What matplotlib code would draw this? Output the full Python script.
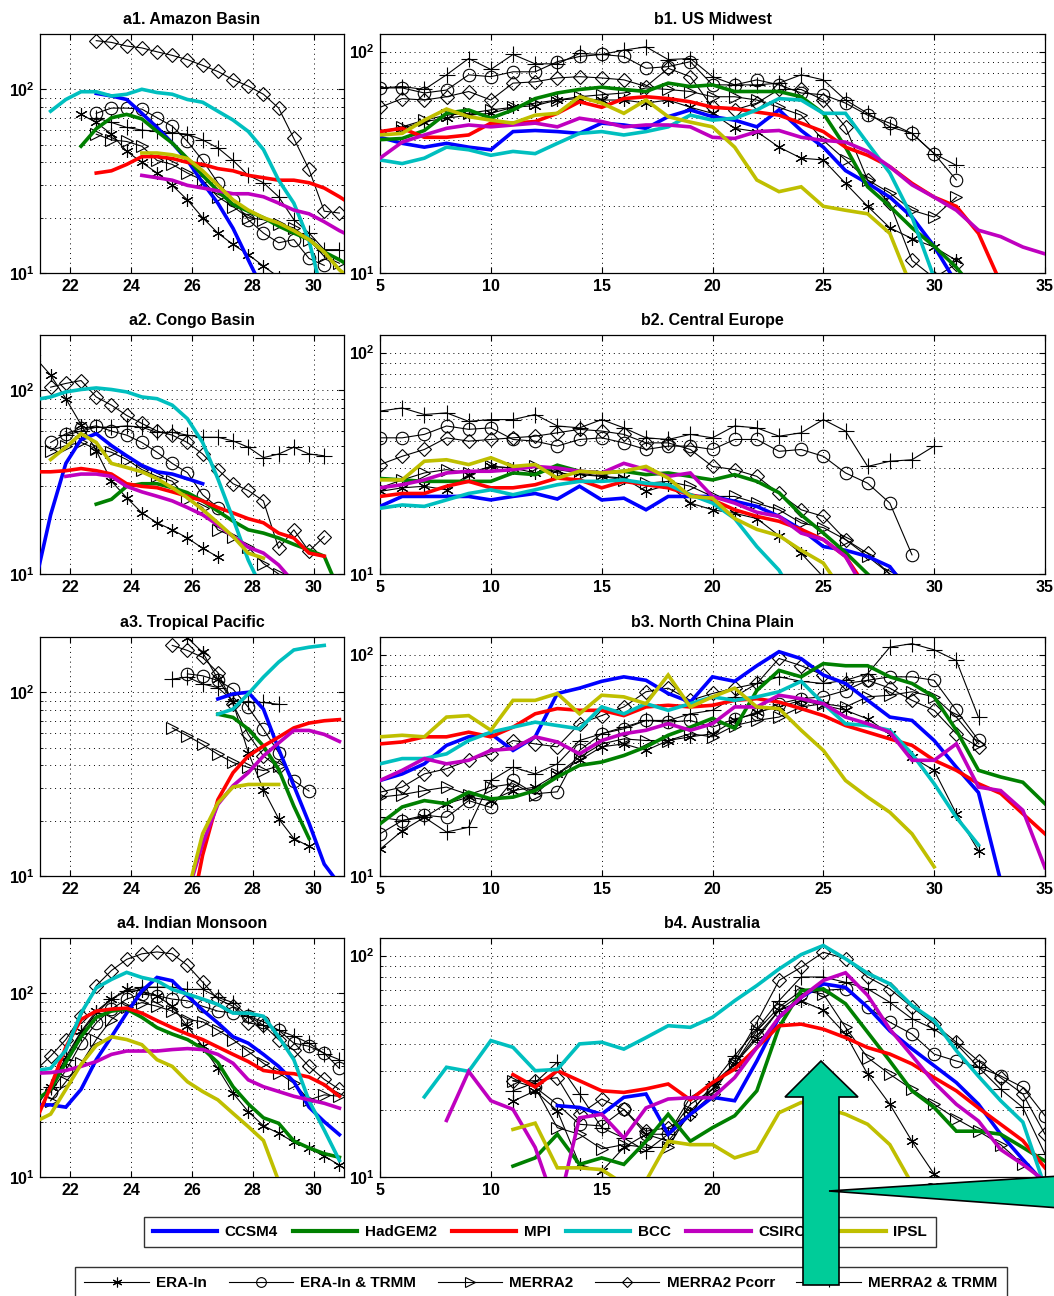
import numpy as np
import matplotlib
matplotlib.use("Agg")
from matplotlib import pyplot as plt
from matplotlib.lines import Line2D
from matplotlib.patches import Polygon
from matplotlib.ticker import FixedLocator, FuncFormatter, NullFormatter, LogLocator

plt.rcParams['font.family'] = ['Liberation Sans', 'DejaVu Sans']
plt.rcParams['font.weight'] = 'bold'
plt.rcParams['mathtext.fontset'] = 'custom'
plt.rcParams['mathtext.bf'] = 'Liberation Sans:bold'
plt.rcParams['mathtext.rm'] = 'Liberation Sans:bold'

N = None

# x grids (bin centres)
LX = [20.85, 21.35, 21.85, 22.35, 22.85, 23.35, 23.85, 24.35, 24.85, 25.35, 25.85,
      26.35, 26.85, 27.35, 27.85, 28.35, 28.85, 29.35, 29.85, 30.35, 30.85, 31.35]
RX = [5, 6, 7, 8, 9, 10, 11, 12, 13, 14, 15, 16, 17, 18, 19, 20,
      21, 22, 23, 24, 25, 26, 27, 28, 29, 30, 31, 32, 33, 34, 35]

MODELS = ["CCSM4", "HadGEM2", "MPI", "BCC", "CSIRO", "IPSL"]
MODEL_COLORS = ['#0000ff', '#008000', '#ff0000', '#00bfbf', '#bf00bf', '#bfbf00']
OBS = ["ERA-In", "ERA-In & TRMM", "MERRA2", "MERRA2 Pcorr", "MERRA2 & TRMM"]
OBS_MARKERS = [(6, 2, 0), 'o', '>', 'D', '+']
OBS_SIZES = [9, 9, 9, 7, 11]

# ---- a1. Amazon Basin
A1_CCSM4 = [N]*4 + [95, 92, 88, 74, 62, 51, 41, 31, 24, 17.5, 11.8, 8]
A1_HADGEM2 = [N]*3 + [49, 61, 70, 73, 69, 59, 51, 42, 34, 28, 23.6, 21.7, 20, 18, 16.5, 15.2, 13, 11.8, 10.5]
A1_MPI = [N]*4 + [35, 36, 39, 43, 43, 42, 40, 39, 37, 36, 34, 33, 32, 32, 31, 29, 26, 23]
A1_BCC = [N] + [76, 88, 97, 97, 92, 94, 100, 96, 94, 88, 85, 76, 68, 59, 47, 32, 24, 15, 7]
A1_CSIRO = [N]*7 + [34, 33, 32, 30, 29, 28, 27, 27, 26, 24, 22, 21, 19, 17, 15.5]
A1_IPSL = [N]*7 + [45, 45, 44, 42, 36, 30, 25, 22, 20, 18.7, 17, 15.2, 13, 10.4, 9]
A1_ERA = [N]*3 + [73, 66, 57, 46, 40, 35, 30, 25, 20, 16.5, 14.3, 12.6, 10.9, 9.5]
A1_ERA_TRMM = [N]*4 + [74, 79, 79, 78, 70, 63, 52, 41, 31, 25, 19.5, 16.5, 14.6, 15.2, 12, 11]
A1_MERRA2 = [N]*4 + [57, 53, 52, 49, 41, 39, 35, 32, 26, 23, 20, 19.5, 18.5, 17.6, 15.2, 12.3, 11.3]
A1_PCORR = [N]*4 + [184, 180, 172, 168, 160, 153, 145, 135, 125, 113, 104, 94, 79, 54, 36.6, 21.7, 21.2]
A1_M2_TRMM = [N]*4 + [70, 66, 62, 60, 59, 58, 57, 53, 48, 41, 34, 31, 26, 19.5, 16.5, 13.4, 13.4]

# ---- a2. Congo Basin
A2_CCSM4 = [9, 21, 40, 54, 58, 50, 44, 39, 36, 35, 33, 31]
A2_HADGEM2 = [N]*4 + [24, 25.5, 30, 31, 31, 29.5, 27.7, 25, 22, 19.4, 17.4, 16.7, 15.7, 14.5, 13.5, 12.5, 8]
A2_MPI = [36, 36, 36.5, 37.5, 36.5, 35, 31, 30, 29.5, 28, 26.5, 25, 23, 21.5, 20, 19, 16.7, 15.7, 13, 12.5]
A2_BCC = [89, 92, 98, 101, 103, 101, 98, 92, 90, 83, 70, 52, 33, 20, 11.9, 8]
A2_CSIRO = [N]*2 + [34, 35, 35, 34, 30, 28, 26.5, 25, 23, 21, 18.5, 16, 14, 13, 11.2, 9]
A2_IPSL = [N] + [42, 49, 58, 52, 40, 38, 36, 33, 29.5, 26, 22.4, 19, 16, 13, 12.2]
A2_ERA = [150, 121, 90, 65, 47, 32, 26, 21.5, 19, 17.4, 15.7, 13.8, 12.4]
A2_ERA_TRMM = [N] + [52, 58, 62, 64, 60, 57, 52, 46, 40, 35.6, 27, 23]
A2_MERRA2 = [N] + [47, 50, 52, 48, 46, 42, 37, 34, 32, 25.5, 23, 17.4, 16, 14, 11.4, 10]
A2_PCORR = [N] + [104, 109, 113, 92, 83, 73, 66, 60, 57, 52, 45, 37, 31, 28.5, 25, 13.8, 17.4, 13.3, 16]
A2_M2_TRMM = [N]*2 + [57, 60, 63, 63, 64, 63, 59, 59, 57, 55.5, 55.5, 53, 49, 43, 45, 49, 45, 44]

# ---- a3. Tropical Pacific
A3_CCSM4 = [N]*12 + [92, 98, 100, 81, 49, 31, 19.4, 11.6, 9]
A3_HADGEM2 = [N]*12 + [76, 73, 63, 51, 38, 24, 16]
A3_MPI = [N]*10 + [5, 13, 26, 36.5, 45, 51, 57, 64, 68, 70, 71]
A3_BCC = [N]*12 + [76, 81, 98, 121, 146, 170, 176, 180]
A3_CSIRO = [N]*10 + [8, 15, 24.5, 31, 36.5, 45, 53, 62, 62, 59, 54]
A3_IPSL = [N]*10 + [8, 17, 25, 30.5, 31.5, 31.5, 31.5]
A3_ERA = [N]*10 + [198, 165, 118, 88, 47, 29.5, 20.5, 16, 14.5]
A3_ERA_TRMM = [N]*10 + [126, 123, 116, 104, 83, 63, 47, 33, 29]
A3_MERRA2 = [N]*9 + [64, 58, 52, 46, 41.5, 39, 37.5, 39.7]
A3_PCORR = [N]*9 + [180, 169, 155, 128, 86, 59, 45, 39]
A3_M2_TRMM = [N]*9 + [118, 121, 111, 106, 90, 88, 88, 86]

# ---- a4. Indian Monsoon
A4_CCSM4 = [24.7, 24.7, 24, 30, 43.5, 58, 78, 103, 122, 117, 97, 81, 69, 58, 53.5, 46.5, 40, 33, 24, 20, 17]
A4_HADGEM2 = [26, 30, 42, 58, 74, 80, 82, 74, 65, 60, 56, 50, 42, 31, 25, 21, 19.6, 15.7, 14.4, 13.4, 12.8]
A4_MPI = [20, 31, 51, 72, 80, 82, 83, 78, 71, 65, 60, 56, 51, 46.5, 42.5, 38, 37, 36.5, 35, 31.8, 27.5]
A4_BCC = [38, 39, 49, 78, 107, 119, 130, 122, 117, 105, 99, 93, 87, 78, 78, 75, 58, 43.5, 26, 18, 12.3]
A4_CSIRO = [36.7, 37, 38, 40, 42.5, 46.5, 48.5, 48.5, 48.5, 49.4, 50, 49.4, 46.5, 41.6, 33.8, 31, 29.2, 27.5, 26.3, 25.2, 23.7]
A4_IPSL = [20, 22, 30, 41, 52, 58, 56, 52.5, 43.5, 40, 33, 29.2, 26.3, 22.2, 18.8, 15.8, 9.5]
A4_ERA = [24, 31, 45, 62, 80, 93, 105, 103, 97, 85, 66, 51.5, 39, 28.6, 22.7, 19, 17.3, 15.5, 14.3, 13, 11.6]
A4_ERA_TRMM = [N] + [29, 38, 53.5, 69, 82, 93, 99, 97, 93, 91, 85, 80, 78, 75, 70, 63, 53.5, 51.5, 47.2, 39]
A4_MERRA2 = [N] + [26, 33, 41.5, 56, 72, 84, 89, 85, 80, 72, 70, 63, 56, 48.3, 41.6, 36.8, 32.4, 26.3, 28, 27.5]
A4_PCORR = [38, 45.5, 56, 75, 110, 133, 153, 164, 168, 164, 142, 115, 93, 85, 69, 67, 56, 49, 40, 34, 30]
A4_M2_TRMM = [N] + [31, 43.5, 61, 78, 93, 103, 108, 108, 108, 105, 105, 95, 89, 75, 67, 63, 58.5, 53.5, 47, 43.5]

# ---- b1. US Midwest
B1_CCSM4 = [41, 38.5, 37, 38.5, 37, 36, 43.5, 44, 43.5, 42.7, 47.5, 46.6, 45, 50.8, 54.5, 50.8, 49, 45.7,
            54.5, 44, 37, 29, 25.4, 22, 17.9, 13.2, 9]
B1_HADGEM2 = [40, 40.5, 44, 52.6, 54.5, 50, 54.5, 61.3, 65, 67.4, 69, 67.4, 66, 72, 69.5, 70.7, 66, 66,
              66, 62.5, 52.6, 37, 24.5, 20, 16, 13.2, 10.6, 8]
B1_MPI = [43.5, 45, 41, 41, 42, 47.5, 47.5, 48.3, 52.6, 59.3, 56, 61.3, 62.5, 61.3, 59.3, 56, 55.2, 53.3,
          51.6, 47.5, 43.5, 37, 34, 30.2, 25.4, 22, 20, 15.1, 9]
B1_BCC = [32.4, 31.2, 33, 37, 36, 34, 35.4, 34.6, 38.5, 42.7, 43.5, 42, 43.5, 45.7, 51.6, 49, 50, 54.5,
          61.3, 60.4, 52.6, 52.6, 38.5, 28.3, 17.9, 9.5]
B1_CSIRO = [33, 39, 42, 45, 46.6, 45.7, 46.6, 47.5, 45.7, 50, 48.3, 45.7, 46.6, 46.6, 45.7, 41, 40.5, 43.5,
            44, 41, 39.7, 39, 35.4, 30.2, 25, 22, 19.2, 15.6, 14.6, 13.1, 12.2]
B1_IPSL = [42, 42.7, 49, 55, 50.8, 49, 47.5, 51.6, 52.6, 62.5, 58.5, 52.6, 60.4, 50.8, 48, 45.7, 37, 26.3,
           23.3, 24.5, 20, 19.2, 18.5, 15.1, 8.5]
B1_ERA = [43.5, 45, 48.3, 50, 51.6, 52.6, 56, 57, 60.4, 61.3, 60.4, 60.4, 58.5, 60.4, 56, 52.6, 45, 43.5,
          37, 33, 32.4, 25.4, 20, 16, 14.3, 13.1, 11.4]
B1_ERA_TRMM = [68.5, 68.5, 65, 67, 78.5, 77, 81, 81, 90, 95, 97, 95, 84, 85.5, 90, 70.7, 70.7, 74.5,
               70.7, 65, 63.8, 58.5, 51.6, 47.5, 42.7, 34.6, 26.3]
B1_MERRA2 = [43.5, 45.7, 49, 51.6, 52.6, 54.5, 56, 58.5, 60.4, 62.5, 63.8, 65, 68.5, 67.4, 66, 62.5, 62.5,
             60.4, 56, 51.6, 39.7, 32.4, 26.3, 23, 19.2, 17.9, 22]
B1_PCORR = [56, 61.3, 60.4, 62.5, 66, 60.4, 72, 73, 76, 77, 76, 74.5, 69.5, 84, 77, 56, 54.5, 58.5,
            67.4, 67.4, 60.4, 45.7, 26.3, 20.6, 11.4, 9.5, 11]
B1_M2_TRMM = [68.5, 69.5, 67.4, 78.5, 93, 83, 97, 88, 88, 98, 97, 101.5, 105, 92, 93, 77, 70.7, 70.7,
              72, 78.5, 74.5, 60.4, 52.6, 45.7, 42.7, 34.6, 30.6]

# ---- b2. Central Europe
B2_CCSM4 = [20.2, 22.4, 22.4, 22.4, 22.4, 21.6, 22.4, 23.1, 21.8, 24.9, 21.6, 22, 19.5, 22.4, 22.4, 22.4,
            21.3, 20.2, 18.2, 15.9, 13.3, 12.8, 12, 10.8, 8]
B2_HADGEM2 = [27, 26.6, 26.2, 26.2, 26.2, 26.2, 28.6, 28.1, 31, 29.1, 28.6, 29.1, 28.1, 28.6, 27.6, 26.6,
              28.1, 26.2, 23.3, 18.5, 15.3, 12.5, 10, 8]
B2_MPI = [22.4, 23.1, 23.1, 24.9, 26.2, 24.5, 24.5, 25.3, 27.1, 26.6, 24.5, 26.2, 25.3, 24.5, 22.8, 21.6,
          19.5, 18.2, 17.3, 15.9, 14.3, 12, 8.5, 7]
B2_BCC = [19.8, 20.5, 20.2, 21.6, 23.1, 24, 22.8, 24, 25.3, 26.2, 26.2, 26.6, 25.7, 25.3, 22.8, 20.9,
          17.8, 13.3, 10.4, 7]
B2_CSIRO = [24.5, 25.3, 26.6, 28.6, 29.1, 29.1, 29.6, 30.6, 30.1, 29.1, 28.6, 31.6, 29.6, 27.6, 28.6, 22.4,
            20.9, 19, 18.2, 15.3, 14.3, 12, 8, 6]
B2_IPSL = [26.6, 26.6, 32.3, 32.8, 31.2, 33.5, 30.6, 31.2, 27.1, 29.1, 28.6, 29.1, 30.6, 27.1, 22.4, 22,
           17.8, 15.9, 14.9, 12.8, 11.2, 8, 6]
B2_ERA = [23.6, 24.5, 24.9, 24, 28.1, 30.6, 30.1, 28.6, 29.6, 28.6, 27.6, 27.1, 23.6, 25.3, 20.9, 19.5,
          18.8, 17.8, 14.9, 12.4, 9.7]
B2_ERA_TRMM = [41.2, 41.2, 42.7, 46.6, 45, 45.7, 40.5, 39.8, 37.8, 40.5, 41.2, 39.1, 36.5, 37.8, 37.8, 36.5,
               40.5, 40.5, 35.8, 36.5, 34, 28.6, 25.7, 20.9, 12.2]
B2_MERRA2 = [24.5, 26.6, 28.6, 29.6, 28.6, 30.6, 30.1, 30.6, 28.6, 28.1, 27.6, 26.6, 25.7, 26.2, 24.9, 22.4,
             22.4, 20.9, 19.5, 17, 16.2, 14.3, 12, 10]
B2_PCORR = [31.2, 34, 36.5, 41.2, 39.8, 40.5, 41.2, 41.9, 43.4, 45, 44.2, 42.7, 39.1, 39.1, 36.5, 30.6,
            29.6, 27.6, 23.1, 19.5, 18.2, 14.3, 12.4, 10]
B2_M2_TRMM = [54.4, 56.2, 52.5, 53.4, 48.9, 49.8, 49.8, 52.5, 46.6, 45.7, 49.8, 45.7, 41.2, 40.5, 42.7, 41.2,
              46.6, 45.7, 41.9, 43.4, 49.8, 44.2, 30.6, 32.3, 32.8, 37.8]

# ---- b3. North China Plain
B3_CCSM4 = [27, 28.9, 32.1, 38.9, 42.5, 43.9, 36.9, 42.5, 66.7, 70.5, 75.7, 79.3, 76.5, 66.7, 61, 79.3,
            75.7, 89, 103, 95.8, 80.8, 74, 62.1, 52.2, 50.4, 40.9, 31, 23.8, 9.5]
B3_HADGEM2 = [17.2, 20.5, 21.9, 21.2, 23.9, 22.3, 22.7, 24.3, 28, 31.6, 32.7, 35, 38.3, 43.2, 47, 51.5,
              46.4, 68.8, 84.8, 79.3, 91, 89, 89, 79.3, 74, 64.4, 45.5, 30, 28, 26.5, 21.2]
B3_MPI = [39.5, 40.3, 42.5, 42.5, 44.6, 42.5, 47, 54, 57, 56, 56, 53, 58, 59, 58, 59, 62.1, 63.2, 61, 57,
          53, 47.8, 44.6, 41.6, 38.9, 33.3, 30, 26.1, 23.6, 19.1, 15.5]
B3_BCC = [32.1, 33.9, 33.9, 35.6, 40.9, 44.6, 47, 49.5, 47.8, 46.2, 58, 54, 60, 56, 60, 64.4, 62.1, 64.4,
          67.9, 75.7, 60, 48.7, 47.8, 45.5, 35.6, 26.1, 18.4, 13.8]
B3_CSIRO = [27, 30, 33.9, 32.1, 33.3, 36.9, 37.6, 42.5, 40.3, 35.6, 40.9, 43.9, 45.5, 48.7, 45.5, 48.7, 58,
            58, 65.5, 63.2, 60, 52.2, 48.7, 44.6, 33.3, 33.3, 39.5, 25.2, 24.3, 19.8, 10.9]
B3_IPSL = [42.5, 43.2, 42.5, 52.2, 53, 45.5, 62.1, 62.1, 66.7, 54, 65.5, 64.4, 60, 80.8, 58, 64.4, 70.5,
           58, 57, 45.5, 36.9, 27, 22.7, 19.4, 15.5, 11]
B3_ERA = [13.2, 16, 18.4, 21.2, 22.7, 21.9, 24.3, 25.2, 28.9, 33.3, 38.3, 39.5, 36.9, 40.9, 42.5, 43.9,
          50.4, 55, 58, 62.1, 59, 56, 51.2, 43.9, 34.4, 30, 19.1, 13]
B3_ERA_TRMM = [15.5, 17.8, 18.8, 18.4, 21.9, 20.4, 27, 23.5, 24, 36.9, 43.9, 46.2, 50.4, 49.5, 50.4, 47,
               51.2, 54, 60, 63.2, 64.4, 68.8, 76.5, 79.3, 79.3, 76.5, 56, 41]
B3_MERRA2 = [22.7, 23.3, 24.3, 25.2, 23.3, 25.2, 26.1, 23.3, 28.9, 34.4, 39.5, 41.6, 40.9, 40.9, 43.9, 42.5,
             47.8, 50.4, 52.2, 58, 60, 58, 64.4, 65.5, 67.9, 64.4, 52.2, 39.5]
B3_PCORR = [23.9, 25.2, 28.9, 30.5, 33.3, 35.6, 40.9, 39.5, 38.3, 48.7, 53, 58, 67.9, 70.5, 62.1, 66.7,
            70.5, 74, 96, 89, 80.8, 74, 76.5, 70.5, 62.1, 56, 43.9, 38.3]
B3_M2_TRMM = [18.4, 17.8, 18.4, 15.8, 16.6, 27, 31, 28.9, 32.1, 40.9, 43.9, 47, 50.4, 50.4, 54, 56, 64.4,
              74, 79.3, 75.7, 74, 76.5, 82, 108, 112, 105, 94, 52]

# ---- b4. Australia
B4_CCSM4 = [N]*8 + [21, 20.6, 19.2, 22.9, 23.7, 15.6, 19.2, 22.9, 22.1, 33.4, 52.6, 64.8, 74.5, 71.8,
                    58.4, 45.7, 37.9, 31.8, 26.7, 21.3, 15.6, 12, 9.3]
B4_HADGEM2 = [N]*6 + [11.2, 12.2, 15.6, 11.4, 12.2, 11.4, 14.5, 19.2, 14.5, 16.7, 18.9, 24.5, 47.4, 69.4,
                      70.7, 60.6, 45, 33.4, 24.5, 20.6, 16.1, 16.1, 15.6, 13.6, 11.8]
B4_MPI = [N]*6 + [29, 25.5, 30.2, 27.2, 24.5, 24.1, 25, 26.3, 22.3, 26.7, 30.7, 38.4, 48.2, 49, 46.5, 42.6,
                  38.4, 35.9, 32.4, 28.1, 24.5, 20.5, 17.3, 14.6, 11]
B4_BCC = [N]*2 + [23, 31.3, 30, 41.3, 38.5, 30.2, 30.6, 39.9, 40.6, 37.8, 42.6, 48.2, 47.4, 52.6, 62.5,
                  73.2, 86.9, 101, 111, 96.7, 83.1, 74.5, 59.5, 50.8, 37.2, 28.5, 22.1, 17.7, 9]
B4_CSIRO = [N]*3 + [18, 30, 22.1, 20.2, 13.6, 7, 18.5, 19.2, 15, 20.5, 22.5, 22.8, 22.8, 28.1, 38.4, 52.6,
                    64.8, 77.2, 83.6, 66.1, 46.5, 35.3, 26.7, 21.3, 17.9, 13.3, 11.4, 9.6]
B4_IPSL = [N]*6 + [16.4, 17.5, 11, 11, 10.8, 9.3, 9.6, 14.5, 14, 14, 12.2, 13.1, 19.5, 21.7, 20.6, 19.2,
                   17.3, 14, 9.3]
B4_ERA = [N]*6 + [22, 24.5, 19.9, 11.4, 10.6, 13.6, 15.6, 14.5, 19.2, 26.3, 32.4, 42, 56.6, 62.5, 56.6,
                  44.2, 29.1, 21.3, 14.5, 10.3, 8]
B4_ERA_TRMM = [N]*7 + [25.4, 21.3, 17.3, 17, 20.2, 15.6, 15.6, 21.3, 24.9, 32.4, 43.4, 56.6, 67.1, 69.6,
                       70.7, 58.4, 50, 44.2, 35.9, 33.4, 31.3, 28.6, 25.4, 18.9]
B4_MERRA2 = [N]*6 + [27.2, 25.4, 16.7, 15.6, 13.4, 14, 13.6, 13.6, 19.9, 24.9, 32.4, 45.7, 58.4, 69.4, 67.1,
                     47.4, 34.6, 29.1, 24.9, 21.3, 18.3, 16.1, 14, 11.4, 9.6]
B4_PCORR = [N]*6 + [27.2, 27.2, 28.1, 19.2, 22.5, 20.2, 16.1, 16.7, 19.2, 23.7, 33.4, 49.9, 77.2, 88.5,
                    103.5, 96.7, 80, 70.7, 58.4, 49, 40.6, 33.4, 28.1, 23.7, 15.6]
B4_M2_TRMM = [N]*6 + [24.5, 26.7, 33, 23.7, 16.7, 15, 13.1, 15.6, 22.9, 26.3, 35.3, 46.5, 62.5, 80, 80,
                      75.7, 70.7, 61.5, 51.8, 46.5, 39.9, 31.3, 24.9, 20.6, 12.7]

panels = [
    ("a1. Amazon Basin", 0, 0, [A1_CCSM4, A1_HADGEM2, A1_MPI, A1_BCC, A1_CSIRO, A1_IPSL],
     [A1_ERA, A1_ERA_TRMM, A1_MERRA2, A1_PCORR, A1_M2_TRMM]),
    ("a2. Congo Basin", 1, 0, [A2_CCSM4, A2_HADGEM2, A2_MPI, A2_BCC, A2_CSIRO, A2_IPSL],
     [A2_ERA, A2_ERA_TRMM, A2_MERRA2, A2_PCORR, A2_M2_TRMM]),
    ("a3. Tropical Pacific", 2, 0, [A3_CCSM4, A3_HADGEM2, A3_MPI, A3_BCC, A3_CSIRO, A3_IPSL],
     [A3_ERA, A3_ERA_TRMM, A3_MERRA2, A3_PCORR, A3_M2_TRMM]),
    ("a4. Indian Monsoon", 3, 0, [A4_CCSM4, A4_HADGEM2, A4_MPI, A4_BCC, A4_CSIRO, A4_IPSL],
     [A4_ERA, A4_ERA_TRMM, A4_MERRA2, A4_PCORR, A4_M2_TRMM]),
    ("b1. US Midwest", 0, 1, [B1_CCSM4, B1_HADGEM2, B1_MPI, B1_BCC, B1_CSIRO, B1_IPSL],
     [B1_ERA, B1_ERA_TRMM, B1_MERRA2, B1_PCORR, B1_M2_TRMM]),
    ("b2. Central Europe", 1, 1, [B2_CCSM4, B2_HADGEM2, B2_MPI, B2_BCC, B2_CSIRO, B2_IPSL],
     [B2_ERA, B2_ERA_TRMM, B2_MERRA2, B2_PCORR, B2_M2_TRMM]),
    ("b3. North China Plain", 2, 1, [B3_CCSM4, B3_HADGEM2, B3_MPI, B3_BCC, B3_CSIRO, B3_IPSL],
     [B3_ERA, B3_ERA_TRMM, B3_MERRA2, B3_PCORR, B3_M2_TRMM]),
    ("b4. Australia", 3, 1, [B4_CCSM4, B4_HADGEM2, B4_MPI, B4_BCC, B4_CSIRO, B4_IPSL],
     [B4_ERA, B4_ERA_TRMM, B4_MERRA2, B4_PCORR, B4_M2_TRMM]),
]

W, H = 1054, 1296
fig = plt.figure(figsize=(W / 100, H / 100), dpi=100)

row_tops = [34, 335, 637, 938]
ax_h = 239


def to_arr(vals):
    return np.array([np.nan if v is None else v for v in vals], dtype=float)


def log_label(v, pos):
    return r'$\mathbf{10^{%d}}$' % int(round(np.log10(v)))


for title, row, col, models, obs in panels:
    if col == 0:
        x0, w, grid, xlim, ylim, xt = 40, 304, LX, (21, 31), (10, 200), [22, 24, 26, 28, 30]
    else:
        x0, w, grid, xlim, ylim, xt = 380, 665, RX, (5, 35), (10, 120), [5, 10, 15, 20, 25, 30, 35]
    top = row_tops[row]
    ax = fig.add_axes([x0 / W, 1 - (top + ax_h) / H, w / W, ax_h / H])

    for vals, mk, ms in zip(obs, OBS_MARKERS, OBS_SIZES):
        y = to_arr(vals)
        ax.plot(grid[:len(y)], y, color='k', lw=0.8, marker=mk, ms=ms,
                mfc='none', mec='k', mew=0.8, zorder=2, clip_on=True)
    for vals, c in zip(models, MODEL_COLORS):
        y = to_arr(vals)
        ax.plot(grid[:len(y)], y, color=c, lw=2.6, zorder=3, solid_joinstyle='miter')

    ax.set_yscale('log')
    ax.set_xlim(*xlim)
    ax.set_ylim(*ylim)
    ax.set_xticks(xt)
    ax.yaxis.set_major_locator(FixedLocator([10, 100]))
    ax.yaxis.set_major_formatter(FuncFormatter(log_label))
    ax.yaxis.set_minor_locator(LogLocator(base=10, subs=np.arange(2, 10)))
    ax.yaxis.set_minor_formatter(NullFormatter())
    ax.grid(True, axis='y', which='both', color='k', lw=0.7, ls=(0, (1, 4)))
    ax.grid(True, axis='x', which='major', color='k', lw=0.7, ls=(0, (1, 4)))
    ax.tick_params(which='both', direction='in', top=True, right=True, labelsize=11.5)
    ax.tick_params(which='major', length=4, pad=4)
    ax.tick_params(which='minor', length=2)
    for lab in ax.get_xticklabels() + ax.get_yticklabels():
        lab.set_fontweight('bold')
    for s in ax.spines.values():
        s.set_linewidth(0.9)
    ax.set_title(title, fontsize=11.5, fontweight='bold', pad=7)

# legends
model_handles = [Line2D([], [], color=c, lw=3) for c in MODEL_COLORS]
leg1 = fig.legend(model_handles, MODELS, loc='center', bbox_to_anchor=(540 / W, 1 - 1232 / H),
                  ncol=6, frameon=True, fancybox=False, edgecolor='k', handlelength=4.2,
                  handletextpad=0.5, columnspacing=1.0, borderpad=0.55,
                  prop={'weight': 'bold', 'size': 11})
leg1.get_frame().set_linewidth(1.0)
obs_handles = [Line2D([], [], color='k', lw=0.8, marker=m, ms=7 if m != 'D' else 5.5,
                      mfc='none', mec='k', mew=0.8) for m in OBS_MARKERS]
leg2 = fig.legend(obs_handles, OBS, loc='center', bbox_to_anchor=(541 / W, 1 - 1283 / H),
                  ncol=5, frameon=True, fancybox=False, edgecolor='k', handlelength=4.2,
                  handletextpad=0.5, columnspacing=1.4, borderpad=0.6, numpoints=1,
                  prop={'weight': 'bold', 'size': 11})
leg2.get_frame().set_linewidth(1.0)

# green arrow and pointer overlay
arrow_px = [(821, 1061), (858, 1097), (839, 1097), (839, 1285), (803, 1285), (803, 1097), (785, 1097)]
pointer_px = [(829, 1191), (1060, 1176), (1060, 1208)]
for pts in (arrow_px, pointer_px):
    fig.add_artist(Polygon([(x / W, 1 - y / H) for x, y in pts], closed=True,
                           transform=fig.transFigure, facecolor='#00cc99',
                           edgecolor='k', lw=1.2, zorder=10))

fig.savefig('out.png', dpi=100)
